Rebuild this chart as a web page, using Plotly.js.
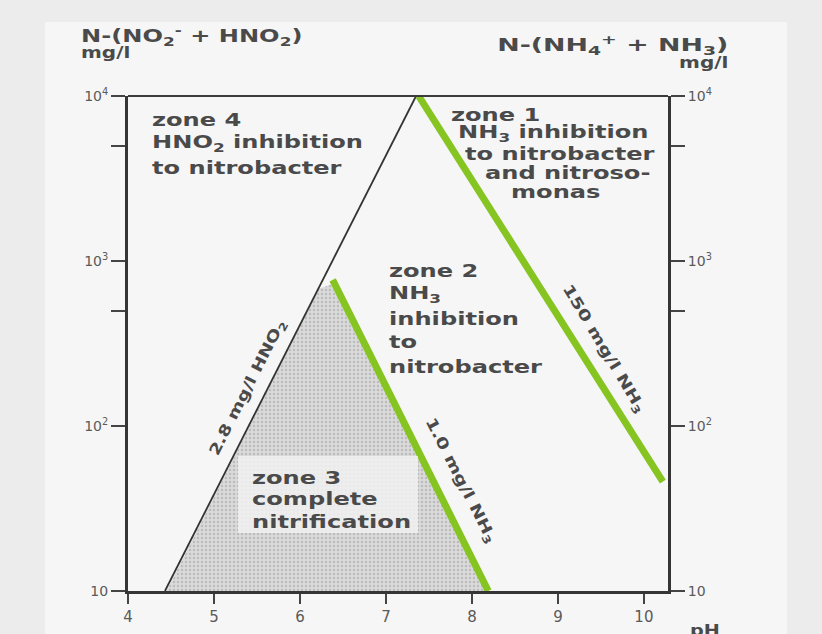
<!DOCTYPE html>
<html><head><meta charset="utf-8">
<script src="https://cdn.plot.ly/plotly-3.0.1.min.js"></script>
<style>
html,body{margin:0;padding:0;background:#ececec;}
#chart{width:822px;height:634px;}
</style></head><body><div id="chart"></div>
<script>
// ---- data (pH vs N concentration, mg/l) ----
const phTicks = [4, 5, 6, 7, 8, 9, 10];
const concTicks = [10, 100, 500, 1000, 5000, 10000];
const concTickText = ['10', '10<sup>2</sup>', '', '10<sup>3</sup>', '', '10<sup>4</sup>'];
const hno2LinePH = [4.43, 7.35];
const hno2LineConc = [10, 10000];
const nh3HighPH = [7.38, 10.22];
const nh3HighConc = [10000, 46];
const nh3LowPH = [6.38, 8.19];
const nh3LowConc = [768, 10];
const zone3PH = [4.45, 6.22, 6.36, 8.17];
const zone3Conc = [10, 680, 720, 10];

// ---- layout helpers ----
const L = 128, R = 668, T = 96, B = 591;
const px = v => (v - L) / (R - L);
const py = v => (B - v) / (B - T);
const TXT = '#4a4a4a';
const FONT = 'DejaVu Sans';
const stretch = [];
function lbl(text, x, y, size, sx, origin, extra) {
  stretch.push({s: sx, o: origin});
  return Object.assign({
    xref: 'paper', yref: 'paper', x: px(x), y: py(y), text: text, showarrow: false,
    xanchor: 'left', yanchor: 'middle',
    font: {family: FONT, size: size, color: TXT, weight: 'bold'}
  }, extra || {});
}
const ZF = 18, ZS = 1.34, LO = '0% 50%', RO = '100% 50%', CO = '50% 50%';
const annotations = [
  // headers
  lbl('N-(NO<sub>2</sub><sup>-</sup> + HNO<sub>2</sub>)', 79, 36, 17, 1.42, LO),
  lbl('mg/l', 79, 52, 16, 1.25, LO),
  lbl('N-(NH<sub>4</sub><sup>+</sup> + NH<sub>3</sub>)', 730, 45, 17, 1.58, RO, {xanchor: 'right'}),
  lbl('mg/l', 730, 62, 16, 1.25, RO, {xanchor: 'right'}),
  lbl('pH', 688, 630, 16, 1.2, LO),
  // zone 4
  lbl('zone 4', 150, 120, ZF, ZS, LO),
  lbl('HNO<sub>2</sub> inhibition', 150, 143, ZF, ZS, LO),
  lbl('to nitrobacter', 150, 167, ZF, ZS, LO),
  // zone 1
  lbl('zone 1', 449, 114, ZF, ZS, LO),
  lbl('NH<sub>3</sub> inhibition', 456, 133, ZF, ZS, LO),
  lbl('to nitrobacter', 463, 153, ZF, ZS, LO),
  lbl('and nitroso-', 483, 172, ZF, ZS, LO),
  lbl('monas', 509, 191, ZF, ZS, LO),
  // zone 2
  lbl('zone 2', 387, 270, ZF, ZS, LO),
  lbl('NH<sub>3</sub>', 387, 294, ZF, ZS, LO),
  lbl('inhibition', 387, 318, ZF, ZS, LO),
  lbl('to', 387, 341, ZF, ZS, LO),
  lbl('nitrobacter', 387, 366, ZF, ZS, LO),
  // zone 3
  lbl('zone 3', 250, 477, ZF, ZS, LO),
  lbl('complete', 250, 498, ZF, ZS, LO),
  lbl('nitrification', 250, 521, ZF, ZS, LO),
  // line labels
  lbl('2.8 mg/l HNO<sub>2</sub>', 247, 388, 15, 1.26, CO, {xanchor: 'center', textangle: -63}),
  lbl('1.0 mg/l NH<sub>3</sub>', 461, 480, 15, 1.3, CO, {xanchor: 'center', textangle: 63}),
  lbl('150 mg/l NH<sub>3</sub>', 604, 348, 15, 1.32, CO, {xanchor: 'center', textangle: 59})
];

const GREEN = '#86c421';
const traces = [
  {x: zone3PH, y: zone3Conc, type: 'scatter', mode: 'none', fill: 'toself',
   fillcolor: '#d8d8d8',
   fillpattern: {shape: '.', bgcolor: '#dadada', fgcolor: '#bcbcbc', size: 4, solidity: 0.3},
   hoverinfo: 'skip', showlegend: false},
  {x: hno2LinePH, y: hno2LineConc, type: 'scatter', mode: 'lines',
   line: {color: '#333', width: 1.8}, showlegend: false},
  {x: nh3LowPH, y: nh3LowConc, type: 'scatter', mode: 'lines',
   line: {color: GREEN, width: 7}, showlegend: false},
  {x: nh3HighPH, y: nh3HighConc, type: 'scatter', mode: 'lines', yaxis: 'y2',
   line: {color: GREEN, width: 7}, showlegend: false}
];

const yCommon = {
  type: 'log', range: [1, 4], tickvals: concTicks, ticktext: concTickText,
  showgrid: false, zeroline: false, showline: true, linecolor: '#353535', linewidth: 3,
  ticks: 'outside', ticklen: 14, tickwidth: 2, tickcolor: '#444',
  tickfont: {family: FONT, size: 14, color: '#5a5a5a'}, fixedrange: true
};

const layout = {
  width: 822, height: 634,
  margin: {l: L, r: 822 - R, t: T, b: 634 - B},
  paper_bgcolor: '#ececec', plot_bgcolor: 'rgba(0,0,0,0)',
  showlegend: false,
  xaxis: {
    range: [4, 10.28], tickvals: phTicks, showgrid: false, zeroline: false,
    showline: true, linecolor: '#353535', linewidth: 3,
    ticks: 'outside', ticklen: 10, tickwidth: 2, tickcolor: '#444',
    tickfont: {family: FONT, size: 15, color: '#5a5a5a'}
  },
  yaxis: Object.assign({}, yCommon, {side: 'left'}),
  yaxis2: Object.assign({}, yCommon, {side: 'right', overlaying: 'y'}),
  shapes: [
    {type: 'rect', xref: 'paper', yref: 'paper', x0: px(45), x1: px(787), y0: py(640), y1: py(22),
     fillcolor: '#f6f6f6', line: {width: 0}, layer: 'below'},
    {type: 'rect', xref: 'paper', yref: 'paper', x0: px(238), x1: px(418), y0: py(533), y1: py(456),
     fillcolor: 'rgba(241,241,241,0.85)', line: {width: 0}, layer: 'above'},
    {type: 'line', xref: 'paper', yref: 'paper', x0: 0, x1: 1, y0: 1, y1: 1,
     line: {color: '#3a3a3a', width: 2}}
  ],
  annotations: annotations
};

Plotly.newPlot('chart', traces, layout, {staticPlot: true, displayModeBar: false}).then(function () {
  document.querySelectorAll('#chart .annotation').forEach(function (g) {
    const i = +g.getAttribute('data-index');
    const cfg = stretch[i];
    const t = g.querySelector('text.annotation-text');
    if (!cfg || !t) return;
    t.style.transformBox = 'fill-box';
    t.style.transformOrigin = cfg.o;
    t.style.transform = 'scaleX(' + cfg.s + ')';
  });
});
</script></body></html>
